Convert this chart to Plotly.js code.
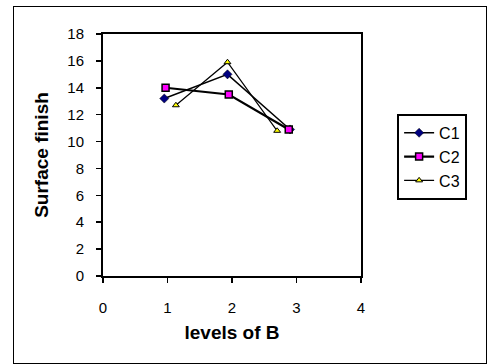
<!DOCTYPE html>
<html><head><meta charset="utf-8">
<script src="https://cdn.plot.ly/plotly-3.0.1.min.js"></script>
<style>
body{margin:0;background:#fff;}
#frame{position:absolute;left:13px;top:6px;width:474px;height:358px;border:1.5px solid #000;box-sizing:border-box;pointer-events:none;z-index:5;}
#chart{position:absolute;left:0;top:0;width:487px;height:364px;}
</style></head>
<body>
<div id="chart"></div><div id="frame"></div>
<script>
const seriesNames = ["C1", "C2", "C3"];
const c1x = [0.95, 1.93, 2.9];
const c1y = [13.2, 15.0, 10.9];
const c2x = [0.97, 1.95, 2.88];
const c2y = [14.0, 13.5, 10.9];
const c3x = [1.13, 1.93, 2.7];
const c3y = [12.7, 15.9, 10.8];
const xTicks = [0, 1, 2, 3, 4];
const yTicks = [0, 2, 4, 6, 8, 10, 12, 14, 16, 18];

const font = "Liberation Sans, Arial, sans-serif";
const traces = [
  {x: c1x, y: c1y, name: seriesNames[0], mode: "lines+markers",
   line: {color: "#000", width: 1.5},
   marker: {symbol: "diamond", size: 7, color: "#000080", line: {color: "#000", width: 0.5}}},
  {x: c2x, y: c2y, name: seriesNames[1], mode: "lines+markers",
   line: {color: "#000", width: 2.2},
   marker: {symbol: "square", size: 7, color: "#ff00ff", line: {color: "#000", width: 1.5}}},
  {x: c3x, y: c3y, name: seriesNames[2], mode: "lines+markers",
   line: {color: "#000", width: 1.2},
   marker: {symbol: "triangle-up", size: 6, color: "#ffff00", line: {color: "#000", width: 1}}}
];
const layout = {
  width: 487, height: 364,
  margin: {l: 103, r: 126, t: 34, b: 88},
  paper_bgcolor: "#fff", plot_bgcolor: "#fff",
  font: {family: font, color: "#000", size: 15},
  showlegend: true,
  legend: {x: 1.14, y: 0.67, xanchor: "left", yanchor: "top",
    bordercolor: "#000", borderwidth: 2, bgcolor: "#fff",
    font: {family: font, size: 16, color: "#000"}, itemwidth: 30, tracegroupgap: 4},
  xaxis: {range: [0, 4], tickvals: xTicks, ticktext: xTicks.map(String),
    showgrid: false, zeroline: false, showline: true, linecolor: "#000", linewidth: 2,
    mirror: true, ticks: "outside", ticklen: 5, tickwidth: 1.5, tickcolor: "#000",
    ticklabelstandoff: 12,
    tickfont: {family: font, size: 15, color: "#000"},
    title: {text: "levels of B", font: {family: font, size: 19, color: "#000", weight: "bold"}, standoff: 11}},
  yaxis: {range: [0, 18], tickvals: yTicks, ticktext: yTicks.map(String),
    showgrid: false, zeroline: false, showline: true, linecolor: "#000", linewidth: 2,
    mirror: true, ticks: "outside", ticklen: 5, tickwidth: 1.5, tickcolor: "#000",
    ticklabelstandoff: 9,
    tickfont: {family: font, size: 15, color: "#000"},
    title: {text: "Surface finish", font: {family: font, size: 19, color: "#000", weight: "bold"}, standoff: 14}}
};
Plotly.newPlot("chart", traces, layout, {staticPlot: true, displayModeBar: false});
</script>
</body></html>
